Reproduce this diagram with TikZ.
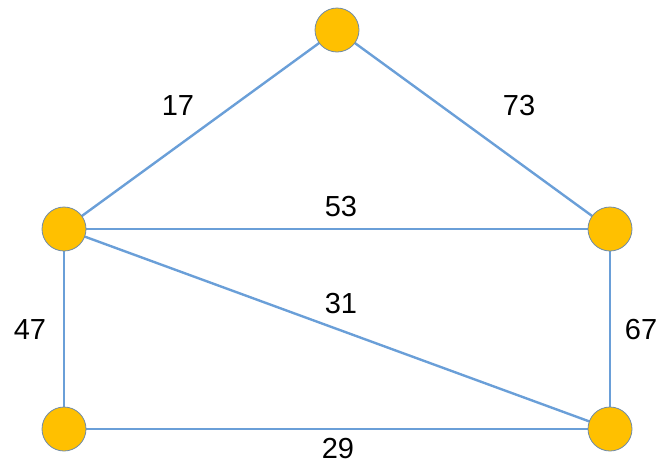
\documentclass[tikz,border=0pt]{standalone}
\usepackage{fontspec}
\setmainfont{Liberation Sans}
\begin{document}
\begin{tikzpicture}[x=1pt,y=-1pt,
  vert/.style={circle,fill=vfill,draw=vborder,line width=0.8pt,minimum size=44pt,inner sep=0pt},
  edge/.style={draw=eblue,line width=2.4pt},
  wlabel/.style={font=\fontsize{29}{32}\selectfont,text=black,inner sep=0pt}]
\definecolor{vfill}{HTML}{FFC000}
\definecolor{vborder}{HTML}{6F8BA8}
\definecolor{eblue}{HTML}{6A9FD8}
\useasboundingbox (0,0) rectangle (672,469);
\coordinate (pt) at (337,30);
\coordinate (pl) at (64,229);
\coordinate (pr) at (610,229);
\coordinate (pbl) at (64,429);
\coordinate (pbr) at (610,429);
\draw[edge] (pt) -- (pl);
\draw[edge] (pt) -- (pr);
\draw[edge] (pl) -- (pr);
\draw[edge] (pl) -- (pbr);
\draw[edge] (pl) -- (pbl);
\draw[edge] (pr) -- (pbr);
\draw[edge] (pbl) -- (pbr);
\node[vert] (t) at (pt) {};
\node[vert] (l) at (pl) {};
\node[vert] (r) at (pr) {};
\node[vert] (bl) at (pbl) {};
\node[vert] (br) at (pbr) {};
\node[wlabel] (w17) at (178,106) {17};
\node[wlabel] (w73) at (519,106) {73};
\node[wlabel] (w53) at (341,207) {53};
\node[wlabel] (w31) at (341,304) {31};
\node[wlabel] (w47) at (30,330) {47};
\node[wlabel] (w67) at (641,330) {67};
\node[wlabel] (w29) at (338,449) {29};
\end{tikzpicture}
\end{document}
